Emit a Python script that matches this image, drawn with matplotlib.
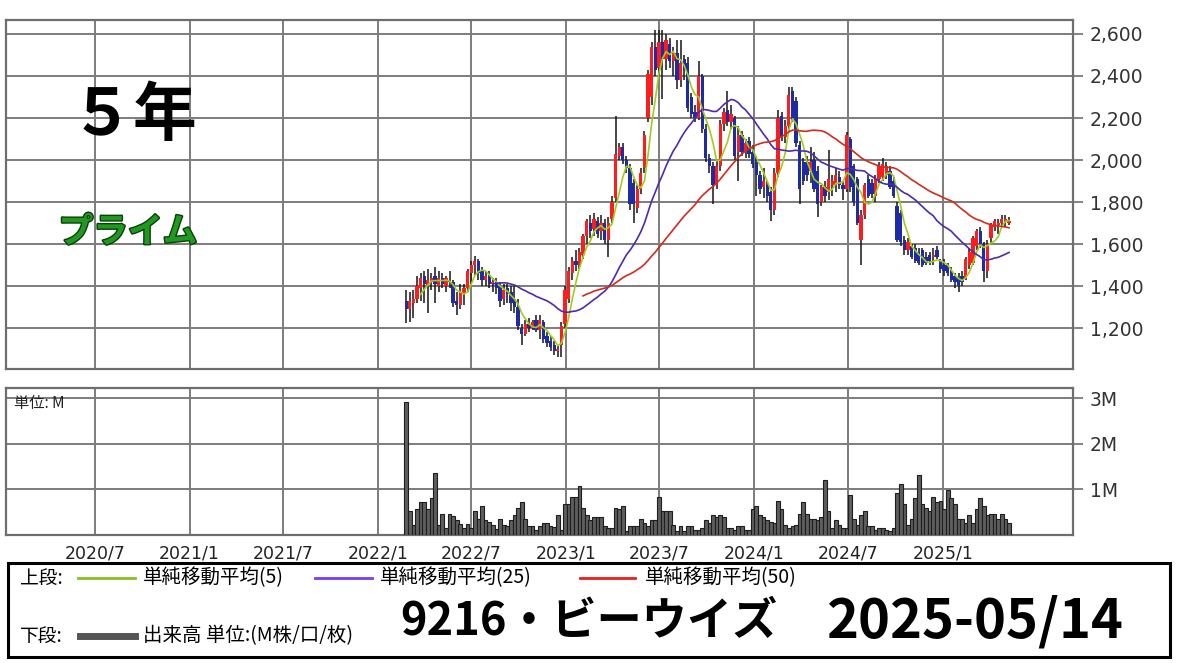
import matplotlib
matplotlib.use('Agg')
import matplotlib.pyplot as plt
import matplotlib.dates as mdates
import matplotlib.patheffects as pe
from matplotlib.patches import Rectangle
from matplotlib.lines import Line2D
import numpy as np
import pandas as pd

# ---------------- data (weekly candles, 9216 ビーウイズ) ----------------
first_week = '2022-02-25'

opens = [1330,1290,1320,1340,1390,1450,1400,1420,1450,1400,
         1440,1400,1430,1420,1330,1310,1360,1390,1460,1500,
         1520,1470,1430,1450,1410,1420,1400,1340,1390,1370,
         1340,1300,1200,1170,1220,1200,1240,1190,1230,1160,
         1140,1120,1090,1120,1220,1340,1460,1520,1500,1550,
         1640,1700,1670,1710,1660,1700,1620,1720,1820,2020,
         2060,2000,1960,1890,1770,1860,1960,2200,2300,2540,
         2440,2560,2480,2550,2470,2510,2380,2480,2460,2300,
         2230,2200,2400,2150,2010,1970,1880,1970,2170,2240,
         2180,2200,2040,2120,2040,2090,2040,1990,1930,1870,
         1880,1850,1760,1940,2210,2110,2160,2330,2280,2070,
         1990,1990,1950,2000,1950,1800,1870,1850,1880,1880,
         1920,1880,1860,2100,1970,1910,1620,1740,1910,1890,
         1830,1910,1920,1930,1950,1900,1780,1750,1620,1570,
         1590,1580,1560,1570,1540,1550,1540,1570,1520,1500,
         1500,1470,1450,1440,1450,1440,1500,1510,1590,1660,
         1600,1470,1630,1680,1690,1700,1710,1700]

highs = [1380,1370,1380,1450,1460,1470,1480,1460,1490,1470,
         1460,1450,1470,1430,1370,1410,1410,1480,1520,1545,
         1530,1490,1470,1470,1440,1440,1420,1410,1410,1400,
         1400,1340,1220,1240,1250,1240,1260,1260,1240,1180,
         1160,1140,1120,1230,1400,1490,1540,1570,1580,1650,
         1720,1740,1750,1730,1740,1720,1730,1830,2210,2080,
         2080,2020,1980,1910,1880,1960,2140,2430,2560,2620,
         2620,2620,2600,2580,2540,2570,2570,2500,2490,2320,
         2260,2470,2410,2170,2030,1990,2000,2190,2250,2330,
         2260,2210,2160,2140,2100,2110,2070,2020,1950,1960,
         1900,1870,1960,2240,2230,2190,2350,2350,2300,2090,
         2010,2020,2060,2040,1970,1880,1900,2050,1930,1960,
         1950,1900,2135,2110,1980,1920,1760,1890,1930,1910,
         1930,1990,2010,1990,1970,1920,1800,1760,1640,1630,
         1600,1600,1580,1580,1560,1560,1580,1590,1530,1530,
         1510,1490,1460,1460,1470,1540,1580,1640,1670,1680,
         1610,1620,1700,1720,1720,1740,1740,1730]

lows = [1225,1230,1250,1320,1330,1320,1270,1380,1320,1370,
        1390,1370,1390,1300,1260,1290,1310,1370,1410,1450,
        1430,1400,1400,1390,1370,1360,1300,1310,1320,1280,
        1270,1190,1120,1160,1180,1190,1180,1150,1130,1110,
        1090,1070,1060,1060,1200,1320,1430,1470,1480,1530,
        1600,1630,1640,1630,1620,1600,1540,1700,1800,2000,
        1980,1940,1760,1700,1750,1840,1940,2180,2260,2400,
        2400,2290,2430,2440,2400,2340,2350,2380,2230,2200,
        2180,2190,2130,1990,1940,1790,1860,1950,2140,2160,
        2150,2000,1900,2020,2010,2010,1960,1830,1840,1820,
        1800,1710,1740,1920,2090,2080,2140,2180,2060,1790,
        1880,1900,1890,1850,1730,1780,1800,1810,1830,1850,
        1860,1810,1850,1850,1780,1690,1500,1720,1820,1820,
        1800,1890,1900,1910,1860,1820,1610,1590,1550,1550,
        1530,1510,1500,1490,1500,1500,1500,1530,1460,1450,
        1450,1420,1390,1370,1400,1430,1480,1500,1570,1580,
        1420,1440,1600,1660,1650,1680,1680,1690]

closes = [1290,1330,1340,1400,1440,1410,1430,1440,1410,1440,
          1410,1440,1420,1320,1310,1370,1390,1470,1500,1520,
          1460,1430,1450,1410,1420,1390,1330,1380,1360,1320,
          1300,1210,1170,1220,1200,1230,1190,1240,1150,1130,
          1110,1090,1100,1210,1380,1470,1520,1500,1560,1640,
          1710,1660,1720,1650,1700,1620,1700,1800,2030,2060,
          2000,1960,1790,1790,1860,1940,2120,2410,2540,2430,
          2560,2480,2570,2470,2510,2380,2460,2430,2250,2220,
          2200,2400,2150,2010,1970,1880,1970,2170,2230,2180,
          2220,2020,2120,2040,2080,2030,1980,1930,1860,1900,
          1830,1760,1940,2200,2110,2160,2310,2200,2080,1860,
          1900,1930,1990,1860,1790,1870,1830,1910,1900,1930,
          1880,1860,2120,1870,1800,1700,1740,1880,1830,1840,
          1910,1970,1980,1970,1870,1830,1620,1610,1570,1610,
          1540,1520,1510,1500,1510,1520,1550,1540,1480,1470,
          1460,1430,1420,1400,1420,1530,1560,1630,1660,1600,
          1470,1600,1690,1710,1700,1720,1720,1710]

volumes_m = [2.91,0.52,0.23,0.56,0.72,0.72,0.56,0.80,1.36,0.23,
             0.47,0.16,0.47,0.41,0.32,0.25,0.16,0.25,0.16,0.52,
             0.36,0.64,0.32,0.28,0.23,0.14,0.36,0.23,0.20,0.32,
             0.43,0.59,0.72,0.36,0.20,0.20,0.12,0.20,0.27,0.27,
             0.20,0.17,0.43,0.12,0.67,0.67,0.83,0.83,1.07,0.59,
             0.43,0.32,0.39,0.39,0.39,0.20,0.16,0.16,0.59,0.56,
             0.63,0.09,0.20,0.20,0.20,0.36,0.27,0.20,0.32,0.32,
             0.83,0.52,0.52,0.52,0.23,0.09,0.20,0.09,0.20,0.20,
             0.12,0.10,0.16,0.32,0.27,0.43,0.39,0.43,0.39,0.16,
             0.16,0.10,0.20,0.20,0.12,0.12,0.56,0.63,0.43,0.39,
             0.32,0.28,0.27,0.75,0.56,0.23,0.16,0.20,0.23,0.47,
             0.72,0.47,0.36,0.36,0.32,0.39,1.20,0.52,0.16,0.32,
             0.23,0.16,0.16,0.87,0.36,0.23,0.43,0.52,0.20,0.20,
             0.12,0.16,0.16,0.12,0.09,0.16,0.92,1.12,0.67,0.23,
             0.36,0.80,1.32,0.68,0.59,0.52,0.83,0.72,0.75,0.56,
             0.99,0.80,0.67,0.36,0.36,0.27,0.43,0.27,0.56,0.80,
             0.63,0.43,0.47,0.47,0.36,0.47,0.36,0.27]

ma_windows = [5, 25, 50]
ma_labels = ['単純移動平均(5)', '単純移動平均(25)', '単純移動平均(50)']

tick_dates = ['2020-07-01', '2021-01-01', '2021-07-01', '2022-01-01', '2022-07-01',
              '2023-01-01', '2023-07-01', '2024-01-01', '2024-07-01', '2025-01-01']
tick_labels = ['2020/7', '2021/1', '2021/7', '2022/1', '2022/7',
               '2023/1', '2023/7', '2024/1', '2024/7', '2025/1']
price_ticks = [1200, 1400, 1600, 1800, 2000, 2200, 2400, 2600]
vol_ticks = [1, 2, 3]
vol_tick_labels = ['1M', '2M', '3M']

title_code = '9216・ビーウイズ'
title_date = '2025-05/14'
period_label = '５年'
market_label = 'プライム'

# ---------------- styling ----------------
JP = ['Noto Sans CJK JP', 'DejaVu Sans']
W, H = 1180, 663
frame_col = '#6e6e6e'
grid_col = '#7c7c7c'
up_col = '#ff1c1c'
down_col = '#1d2ca6'
ma_cols = ['#a2cc1c', '#4e2ab0', '#d42a1c']
legend_cols = ['#88c020', '#7a3cf0', '#f01c1c']

fig = plt.figure(figsize=(W / 100, H / 100), dpi=100)
fig.patch.set_facecolor('white')


def fx(px):
    return px / W


def fy(py):
    return 1 - py / H


x_dates = pd.date_range(first_week, periods=len(closes), freq='7D')
x = mdates.date2num(x_dates)
o = np.array(opens, float)
h = np.array(highs, float)
l = np.array(lows, float)
c = np.array(closes, float)
xlim = (mdates.date2num(pd.Timestamp('2020-01-11')), mdates.date2num(pd.Timestamp('2025-09-10')))
xt = mdates.date2num(pd.to_datetime(tick_dates))

# ---- price panel ----
axp = fig.add_axes([fx(6), fy(369), fx(1073 - 6), (369 - 19.5) / H])
axp.set_xlim(*xlim)
axp.set_ylim(1005, 2669)
axp.set_axisbelow(True)
axp.set_xticks(xt)
axp.set_yticks(price_ticks)
axp.set_yticklabels([f'{v:,}' for v in price_ticks])
axp.yaxis.tick_right()
axp.tick_params(axis='y', length=7, width=1.2, color=frame_col, labelsize=13.5,
                labelcolor='#333333', pad=5)
axp.tick_params(axis='x', length=0, labelbottom=False)
axp.grid(True, color=grid_col, lw=1.4)
for s in axp.spines.values():
    s.set_color(frame_col)
    s.set_linewidth(1.6)

axp.vlines(x, l, h, color='#151515', lw=1.1, zorder=2)
body_bottom = np.minimum(o, c)
body_h = np.maximum(np.abs(c - o), 6)
colors = np.where(c >= o, up_col, down_col)
axp.bar(x, body_h, bottom=body_bottom, width=6.4, color=colors, linewidth=0, zorder=3)

cs = pd.Series(c)
for w, col in zip(ma_windows, ma_cols):
    axp.plot(x, cs.rolling(w).mean(), color=col, lw=1.2, zorder=4)

fig.text(fx(133), fy(116), period_label, family=JP, fontsize=46, fontweight='bold',
         ha='center', va='center', color='black')
fig.text(fx(128), fy(232), market_label, family=JP, fontsize=25, fontweight='bold',
         ha='center', va='center', color='#1f9a1f',
         path_effects=[pe.withStroke(linewidth=2.0, foreground='#0d3d0d')])

# ---- volume panel ----
axv = fig.add_axes([fx(6), fy(535), fx(1073 - 6), (535 - 388) / H])
axv.set_xlim(*xlim)
axv.set_ylim(0, 3.22)
axv.set_axisbelow(True)
axv.set_xticks(xt)
axv.set_xticklabels(tick_labels)
axv.set_yticks(vol_ticks)
axv.set_yticklabels(vol_tick_labels)
axv.yaxis.tick_right()
axv.tick_params(axis='y', length=7, width=1.2, color=frame_col, labelsize=13.5,
                labelcolor='#333333', pad=5)
axv.tick_params(axis='x', length=0, labelsize=12.5, labelcolor='#222222', pad=7)
axv.grid(True, color=grid_col, lw=1.4)
for s in axv.spines.values():
    s.set_color(frame_col)
    s.set_linewidth(1.6)
axv.bar(x, volumes_m, width=7.2, color='#5e5e5e', edgecolor='#1e1e1e', linewidth=0.8,
        zorder=3)
fig.text(fx(14), fy(404), '単位: M', family=JP, fontsize=11, ha='left', va='center',
         color='#222222')

# ---- legend box ----
fig.add_artist(Rectangle((fx(8), fy(657)), fx(1170 - 8), (657 - 563) / H,
                         transform=fig.transFigure, facecolor='white', edgecolor='black',
                         lw=2.2))
fig.text(fx(20), fy(578), '上段:', family=JP, fontsize=13.5, ha='left', va='center')
seg_x = [(78, 135, 143), (315, 372, 380), (580, 635, 645)]
for (x0, x1, tx), col, lab in zip(seg_x, legend_cols, ma_labels):
    fig.add_artist(Line2D([fx(x0), fx(x1)], [fy(578), fy(578)], color=col, lw=2,
                          transform=fig.transFigure))
    fig.text(fx(tx), fy(578), lab, family=JP, fontsize=14, ha='left', va='center')
fig.text(fx(20), fy(636), '下段:', family=JP, fontsize=13.5, ha='left', va='center')
fig.add_artist(Line2D([fx(80), fx(135)], [fy(636), fy(636)], color='#555555', lw=5,
                      transform=fig.transFigure))
fig.text(fx(143), fy(636), '出来高 単位:(M株/口/枚)', family=JP, fontsize=14,
         ha='left', va='center')
fig.text(fx(400), fy(622), title_code, family=JP, fontsize=32.5, fontweight='bold',
         ha='left', va='center')
fig.text(fx(826), fy(622), title_date, family=JP, fontsize=39, fontweight='bold',
         ha='left', va='center')

fig.savefig('out.png', dpi=100, facecolor='white')
